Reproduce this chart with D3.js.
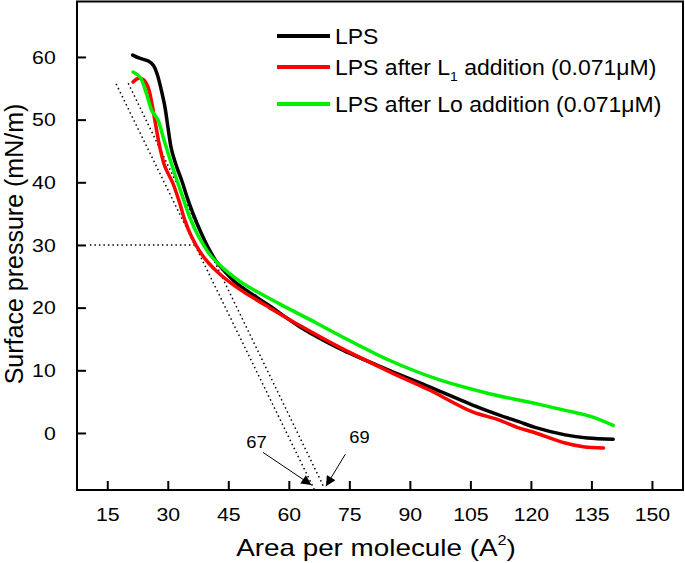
<!DOCTYPE html>
<html><head><meta charset="utf-8">
<script src="https://cdn.jsdelivr.net/npm/d3@7"></script>
<style>body{margin:0;background:#fff}svg{display:block}text{font-family:Arial,"Liberation Sans",sans-serif}</style>
</head><body><svg id="c" width="685" height="563"></svg>
<script>
const xTicks = [15,30,45,60,75,90,105,120,135,150];
const yTicks = [0,10,20,30,40,50,60];
const seriesNames = ["LPS","LPS after L1 addition (0.071μM)","LPS after Lo addition (0.071μM)"];
const seriesColors = ["#000000","#ff0000","#00ee00"];
const lps = [[21.3,60.3],[23.0,59.8],[25.3,59.3],[26.5,58.6],[27.4,57.2],[28.4,54.7],[29.3,52.0],[30.1,48.5],[30.9,45.3],[32.3,42.3],[33.5,40.2],[34.8,37.6],[36.2,35.1],[38.0,32.3],[40.0,29.6],[42.0,27.4],[44.5,25.5],[47,23.9],[49.4,22.8],[55.2,20.3],[62.6,17.0],[72.5,13.5],[84.9,10.0],[94.7,7.4],[105.4,4.5],[112,2.9],[117,1.8],[121,0.9],[128.5,-0.3],[134,-0.8],[140.4,-1.0]];
const lpsL1 = [[21.4,56.0],[22.7,56.6],[23.9,56.4],[25.1,55.2],[26.0,52.8],[26.8,49.9],[28.0,45.7],[29.3,42.5],[31.3,39.8],[33.0,36.6],[34.2,34.0],[35.9,31.3],[37.9,29.0],[40,27.2],[42.8,25.4],[45.5,24.0],[48.6,22.6],[55.2,20.0],[63.4,16.9],[72.5,13.7],[84.9,9.8],[94.7,6.9],[105.4,3.4],[112,2.1],[117,0.8],[120.3,0.2],[128.5,-1.6],[133,-2.2],[138,-2.4]];
const lpsLo = [[21.4,57.6],[23.1,56.8],[24.7,54.2],[26.0,51.5],[27.6,49.9],[28.8,47.3],[30.1,44.6],[31.7,41.4],[33.4,38.2],[35.4,34.5],[37.5,31.5],[38.7,30.2],[40.5,28.4],[43.7,26.3],[47,24.6],[50.3,23.2],[57.7,20.6],[66.7,17.6],[72.5,15.6],[84.9,11.6],[97.2,8.5],[109.5,6.3],[121.9,4.6],[128.5,3.6],[135,2.6],[140.4,1.2]];
const hLine = [[10.7,30],[37,30]];
const tangent1 = [[17.2,55.7],[66.3,-9.0]];
const tangent2 = [[20.2,55.8],[68.8,-8.8]];
const annotations = [{label:"67", at:[52.0,-2.4], from:[53.6,-3.1], to:[65.6,-8.3]},
                     {label:"69", at:[77.5,-1.6], from:[74.0,-3.4], to:[69.2,-8.5]}];

const svg = d3.select("#c");
const L=77, R=683, T=1.5, B=490;
const x = d3.scaleLinear().domain([7.5,157.7]).range([L,R]);
const y = d3.scaleLinear().domain([-9.1,68.85]).range([B,T]);
const SX = 1.12;

svg.append("rect").attr("x",L).attr("y",T).attr("width",R-L).attr("height",B-T)
  .attr("fill","none").attr("stroke","#000").attr("stroke-width",2);

const xa = svg.append("g").attr("transform",`translate(0,${B})`)
  .call(d3.axisBottom(x).tickValues(xTicks).tickSizeInner(-9).tickSizeOuter(0).tickPadding(18));
const ya = svg.append("g").attr("transform",`translate(${L},0)`)
  .call(d3.axisLeft(y).tickValues(yTicks).tickSizeInner(-9).tickSizeOuter(0).tickPadding(19));
[xa,ya].forEach(a=>{a.select(".domain").remove();
  a.selectAll("line").attr("stroke","#000").attr("stroke-width",2);
  a.selectAll("text").attr("font-size",19).attr("fill","#000").attr("transform",`scale(${SX},1)`)
   .style("font-family","Arial, 'Liberation Sans', sans-serif");});

const ln = d3.line().x(d=>x(d[0])).y(d=>y(d[1]));
[hLine,tangent1,tangent2].forEach(d=>svg.append("path").attr("d",ln(d)).attr("fill","none")
  .attr("stroke","#000").attr("stroke-width",1.5).attr("stroke-dasharray","1.5,3"));

const curve = d3.line().x(d=>x(d[0])).y(d=>y(d[1])).curve(d3.curveCatmullRom.alpha(0.5));
[lps,lpsL1,lpsLo].forEach((d,i)=>{
  svg.append("path").attr("d",curve(d)).attr("fill","none").attr("stroke",seriesColors[i])
    .attr("stroke-width",3.5).attr("stroke-linejoin","round").attr("stroke-linecap","round");
});

svg.append("defs").append("marker").attr("id","ah").attr("viewBox","0 0 10 10").attr("refX",10).attr("refY",5)
  .attr("markerWidth",14).attr("markerHeight",10).attr("markerUnits","userSpaceOnUse").attr("orient","auto")
  .append("path").attr("d","M0,0L10,5L0,10z").attr("fill","#000");
annotations.forEach(a=>{
  svg.append("line").attr("x1",x(a.from[0])).attr("y1",y(a.from[1])).attr("x2",x(a.to[0])).attr("y2",y(a.to[1]))
    .attr("stroke","#000").attr("stroke-width",1).attr("marker-end","url(#ah)");
  svg.append("text").attr("transform",`translate(${x(a.at[0])},${y(a.at[1])}) scale(1.08,1)`).attr("text-anchor","middle")
    .attr("font-size",17).text(a.label);
});

const legY = [36, 67, 104];
const lg = svg.append("g");
seriesNames.forEach((n,i)=>{
  lg.append("line").attr("x1",277).attr("x2",330).attr("y1",legY[i]).attr("y2",legY[i])
    .attr("stroke",seriesColors[i]).attr("stroke-width",4);
  const t = lg.append("text").attr("transform",`translate(335,${legY[i]+8}) scale(1.07,1)`).attr("font-size",21.5);
  if(i===1){
    t.append("tspan").text("LPS after L");
    t.append("tspan").attr("font-size",13).attr("dy",6).text("1");
    t.append("tspan").attr("dy",-6).text(" addition (0.071μM)");
  } else t.text(n);
});

const xt = svg.append("text").attr("transform","translate(376,556) scale(1.16,1)").attr("text-anchor","middle").attr("font-size",24);
xt.append("tspan").text("Area per molecule (A");
xt.append("tspan").attr("font-size",14).attr("dy",-11).text("2");
xt.append("tspan").attr("dy",11).text(")");
svg.append("text").attr("transform","translate(23,244) rotate(-90)").attr("text-anchor","middle")
  .attr("font-size",25).text("Surface pressure (mN/m)");
</script></body></html>
